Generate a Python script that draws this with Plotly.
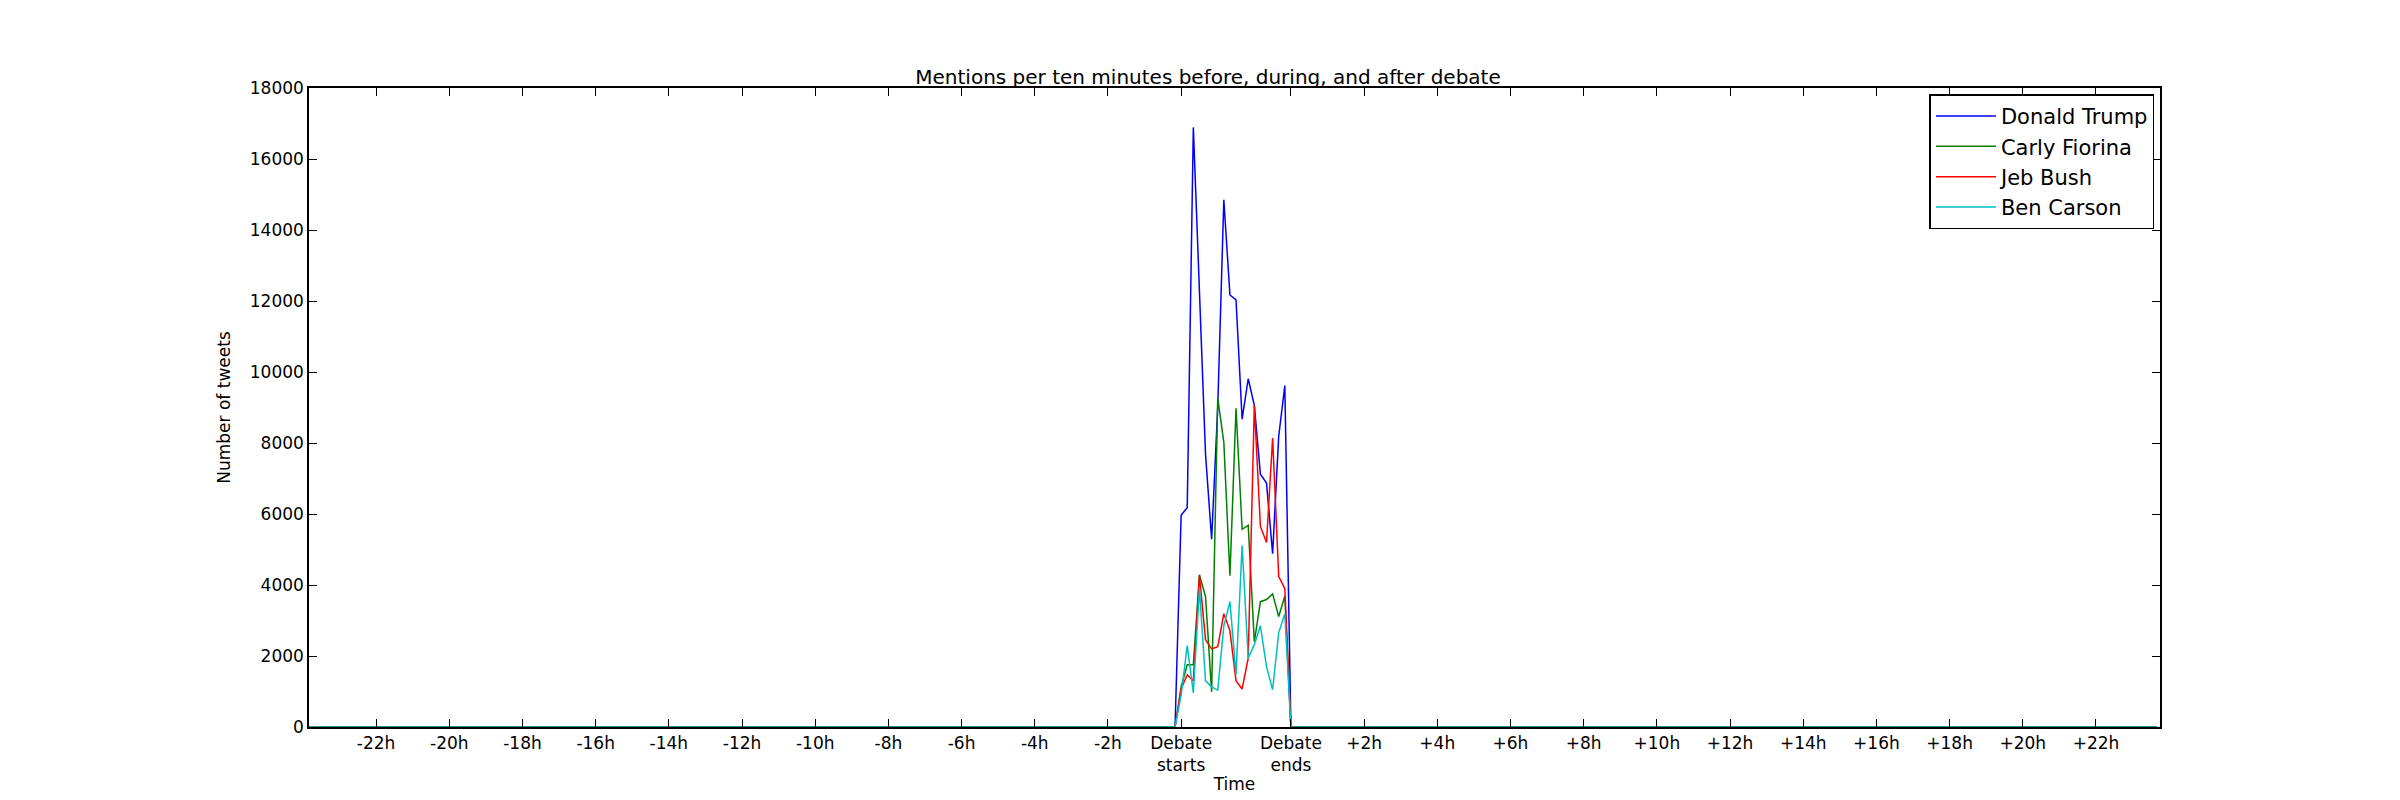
import plotly.graph_objects as go

# ten-minute bins relative to debate start (bin 0 = debate starts, bin 18 = debate ends)
bin_start = -143
bin_end = 160
debate_bins = 18

trump = [5966, 6180, 16890, 12100, 7680, 5290, 9000, 14850, 12170, 12030,
         8670, 9810, 9060, 7120, 6870, 4880, 8190, 9620]
fiorina = [1130, 1750, 1750, 4290, 3670, 990, 9270, 8020, 4260, 8980,
           5570, 5680, 2400, 3530, 3590, 3750, 3110, 3690]
bush = [1070, 1470, 1300, 4270, 2460, 2200, 2260, 3190, 2710, 1300,
        1070, 1940, 9060, 5650, 5200, 8140, 4240, 3900]
carson = [900, 2290, 960, 3900, 1300, 1130, 1040, 2850, 3530, 1470,
          5110, 1940, 2320, 2850, 1700, 1050, 2660, 3190]

series = [("Donald Trump", trump, "#0000ff"),
          ("Carly Fiorina", fiorina, "#008000"),
          ("Jeb Bush", bush, "#ff0000"),
          ("Ben Carson", carson, "#00bfbf")]

x = list(range(bin_start, bin_end + 1))

tick_vals = [-6 * h for h in range(22, 0, -2)] + [0, debate_bins] + \
            [debate_bins + 6 * h for h in range(2, 24, 2)]
tick_text = [f"-{h}h" for h in range(22, 0, -2)] + ["Debate<br>starts", "Debate<br>ends"] + \
            [f"+{h}h" for h in range(2, 24, 2)]

fig = go.Figure()
for name, vals, color in series:
    y = [vals[b] if 0 <= b < debate_bins else 0 for b in x]
    fig.add_trace(go.Scatter(x=x, y=y, mode="lines", name=name,
                             line=dict(color=color, width=1.5)))

axis_style = dict(showline=True, linecolor="black", linewidth=1.5, mirror="ticks",
                  ticks="inside", ticklen=8, tickcolor="black", showgrid=False,
                  zeroline=False, tickfont=dict(size=17, color="black"))

fig.update_layout(
    width=2400, height=800,
    plot_bgcolor="white", paper_bgcolor="white",
    font=dict(family="DejaVu Sans", color="black"),
    margin=dict(l=301, r=248, t=80, b=81),
    title=dict(text="Mentions per ten minutes before, during, and after debate",
               x=0.5, xanchor="center", y=0.905, yanchor="bottom", font=dict(size=20)),
    legend=dict(x=0.997, y=0.99, xanchor="right", yanchor="top",
                bordercolor="black", borderwidth=1.5, bgcolor="white",
                font=dict(size=21), tracegroupgap=6, itemwidth=60),
)
fig.update_xaxes(range=[bin_start, bin_end + 0.5], tickvals=tick_vals, ticktext=tick_text,
                 title=dict(text="Time", font=dict(size=17), standoff=4), **axis_style)
fig.update_yaxes(range=[0, 18000], dtick=2000, tickformat="d",
                 title=dict(text="Number of tweets", font=dict(size=17)), **axis_style)

fig.write_html("out.html")
